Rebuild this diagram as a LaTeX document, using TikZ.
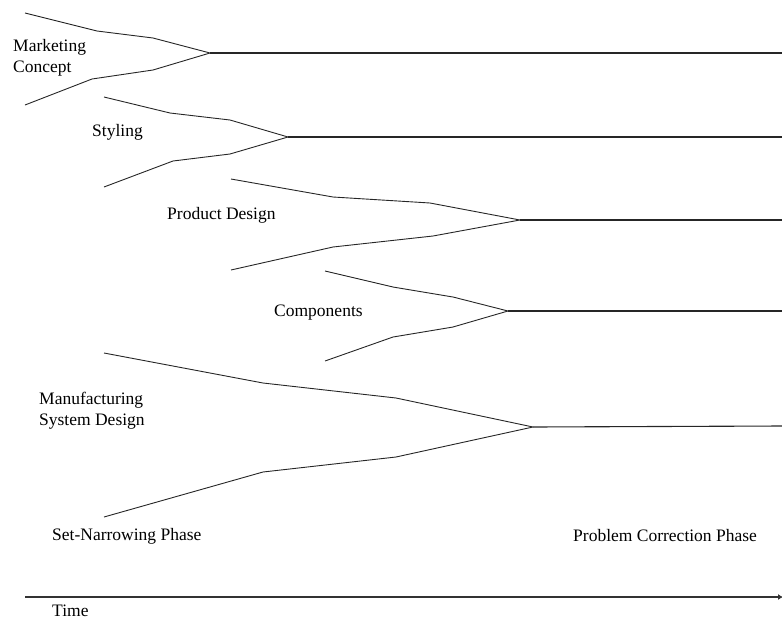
\documentclass[tikz,border=0pt]{standalone}
\usepackage{fontspec}
\setmainfont{Liberation Serif}
\usetikzlibrary{arrows.meta}
\begin{document}
\begin{tikzpicture}[x=1pt,y=-1pt,
  funnel/.style={draw=black!85, line width=0.9pt, line join=round},
  trunk/.style={draw=black!85, line width=1.1pt},
  timeline/.style={draw=black!80, line width=1.8pt, -{Latex[length=5pt,width=6pt]}},
  lbl/.style={inner sep=0pt, anchor=west, align=left, font=\fontsize{17.5}{21}\selectfont}]
\useasboundingbox (0,0) rectangle (782,619);
% tips
\coordinate (t1) at (210,53);
\coordinate (t2) at (288,137);
\coordinate (t3) at (520,220);
\coordinate (t4) at (508,311);
\coordinate (t5) at (533,427);
\coordinate (e1) at (782,53);
\coordinate (e2) at (782,137);
\coordinate (e3) at (782,220);
\coordinate (e4) at (782,311);
\coordinate (e5) at (782,426);
% funnel 1
\draw[funnel] (25,13) -- (97,31) -- (153,38) -- (t1) -- (153,70) -- (92,79) -- (25,105);
\draw[trunk] (t1) -- (e1);
% funnel 2
\draw[funnel] (104,97) -- (170,113) -- (230,120) -- (t2) -- (230,154) -- (173,161) -- (104,187);
\draw[trunk] (t2) -- (e2);
% funnel 3
\draw[funnel] (231,179) -- (333,197) -- (430,203) -- (t3) -- (433,236) -- (333,247) -- (231,270);
\draw[trunk] (t3) -- (e3);
% funnel 4
\draw[funnel] (325,271) -- (393,287) -- (453,297) -- (t4) -- (453,327) -- (393,337) -- (325,361);
\draw[trunk] (t4) -- (e4);
% funnel 5
\draw[funnel] (104,353) -- (263,383) -- (396,398) -- (t5) -- (396,457) -- (263,472) -- (104,517);
\draw[trunk] (t5) -- (e5);
% time axis
\coordinate (a0) at (25,597);
\coordinate (a1) at (783,597);
\draw[timeline] (a0) -- (a1);
% labels
\node[lbl] (mc) at (13,58) {Marketing\\Concept};
\node[lbl] (st) at (92,132) {Styling};
\node[lbl] (pd) at (167,215) {Product Design};
\node[lbl] (co) at (274,313) {Components};
\node[lbl] (ms) at (39,411) {Manufacturing\\System Design};
\node[lbl] (sn) at (52,536) {Set-Narrowing Phase};
\node[lbl] (pc) at (573,536) {Problem Correction Phase};
\node[lbl] (ti) at (52,611) {Time};
\end{tikzpicture}
\end{document}
